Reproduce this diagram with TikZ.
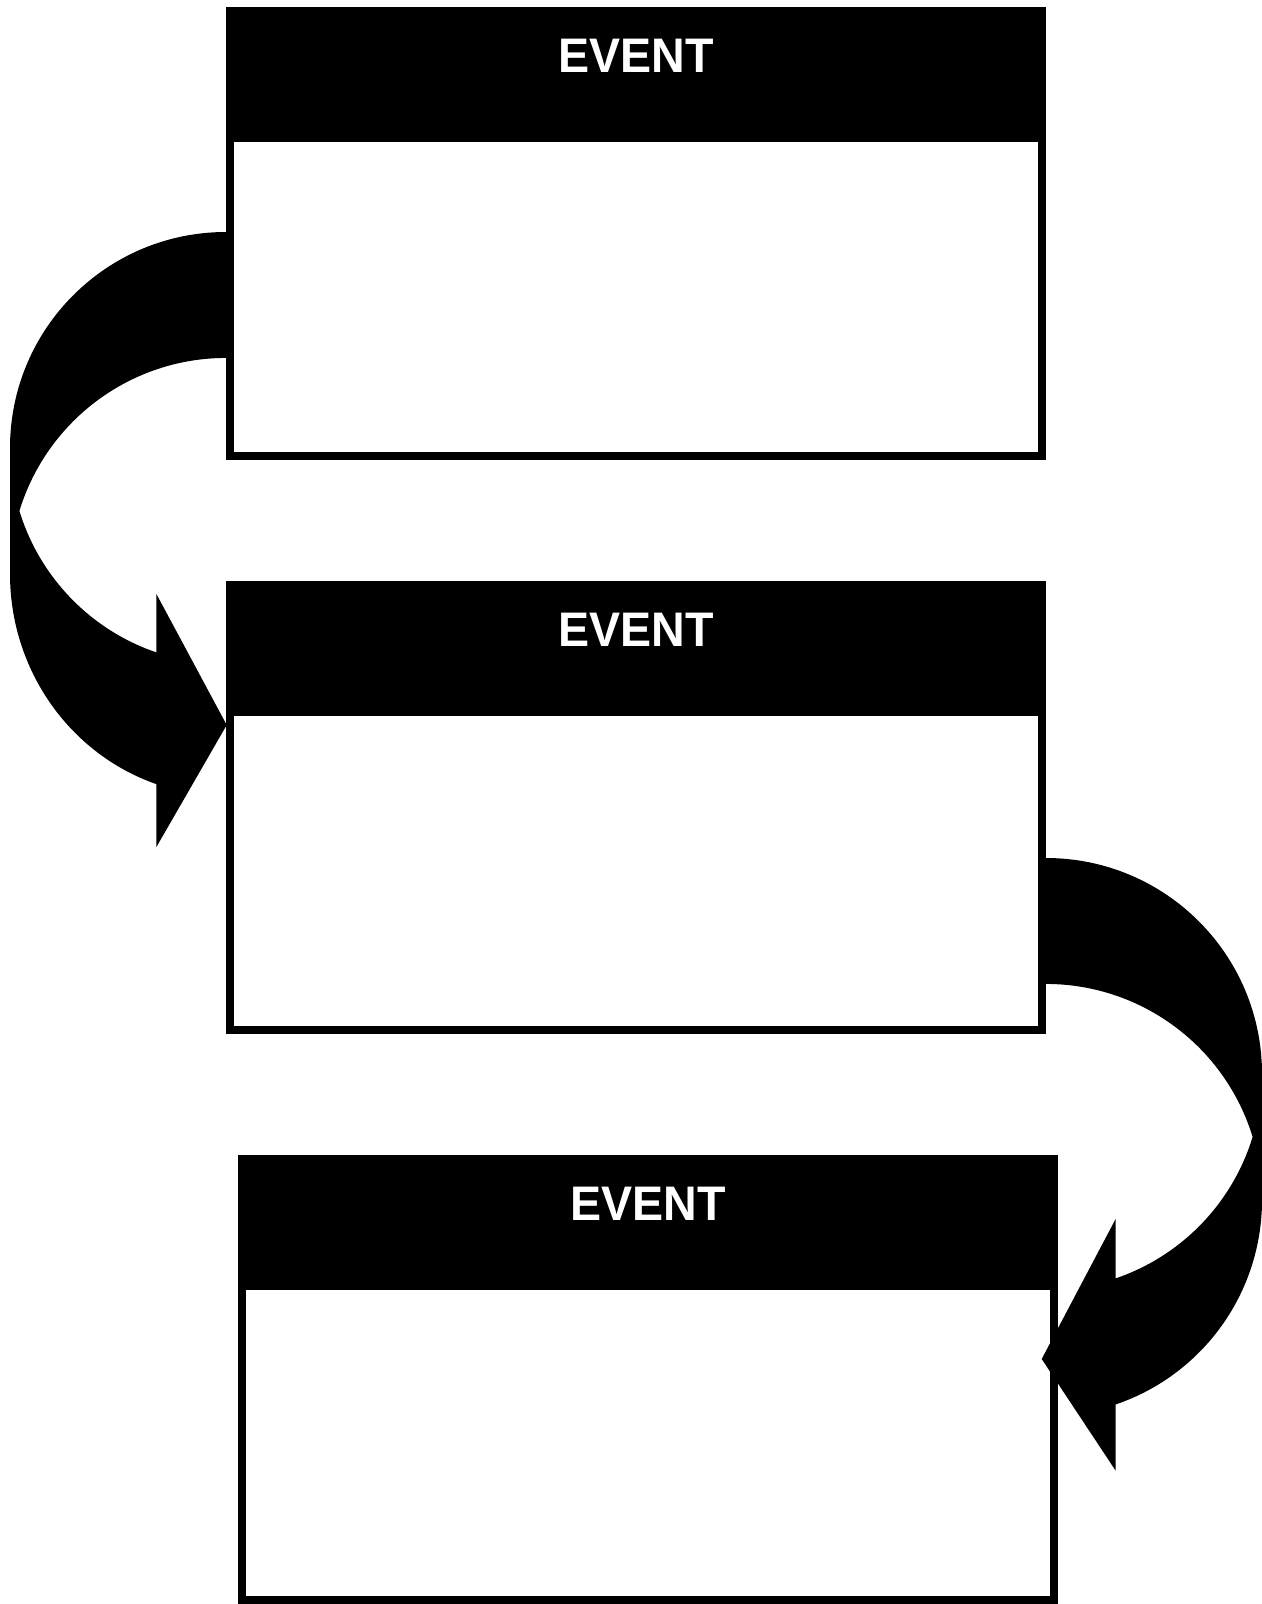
\documentclass[tikz,border=0pt]{standalone}
\usepackage{fontspec}
\setmainfont{Liberation Sans}
\usetikzlibrary{calc}
\begin{document}
\begin{tikzpicture}[x=0.02cm,y=0.02cm,
  hdr/.style={fill=black, draw=none, inner sep=0pt, outer sep=0pt, minimum width=16.4cm, minimum height=2.7cm},
  bodybox/.style={draw=black, line width=0.16cm, fill=white, inner sep=0pt, outer sep=0pt, minimum width=16.24cm},
  ttl/.style={text=white, font=\fontsize{27.6}{31}\selectfont\bfseries, inner sep=0pt, xscale=0.96},
  curvearrow/.style={fill=black, draw=none}]
\useasboundingbox (0,0) rectangle (1261,-1604);
% box 1
\node[bodybox, minimum height=6.44cm] (b1) at (636,-295) {};
\node[hdr] (h1) at (636,-74.5) {};
\node[ttl] (t1) at (636,-56) {EVENT};
% box 2
\node[bodybox, minimum height=6.44cm] (b2) at (636,-869) {};
\node[hdr] (h2) at (636,-648.5) {};
\node[ttl] (t2) at (636,-630) {EVENT};
% box 3
\node[bodybox, minimum height=6.36cm] (b3) at (648,-1441) {};
\node[hdr] (h3) at (648,-1222.5) {};
\node[ttl] (t3) at (648,-1204) {EVENT};
% left curved arrow
\coordinate (la) at (226,-448);
\coordinate (lb) at (226,-574);
\coordinate (ltip) at (226.7,-725);
\fill[curvearrow] ($(la)+(0,216)$) arc[start angle=90,end angle=180,radius=216]
  -- ($(lb)+(-216,0)$) arc[start angle=180,end angle=251.2,x radius=216,y radius=222]
  -- ($(lb)+(-69.6,-273)$) -- (ltip) -- ($(lb)+(-69.6,-20)$)
  -- ($(la)+(-69.6,-204.4)$) arc[start angle=251.2,end angle=196.96,radius=216]
  arc[start angle=163.04,end angle=90,radius=216] -- cycle;
% right curved arrow
\coordinate (ra) at (1046,-1074);
\coordinate (rb) at (1046,-1200);
\coordinate (rtip) at (1041.7,-1359);
\fill[curvearrow] ($(ra)+(0,216)$) arc[start angle=90,end angle=0,radius=216]
  -- ($(rb)+(216,0)$) arc[start angle=0,end angle=-71.2,radius=216]
  -- ($(rb)+(69.6,-270.6)$) -- (rtip) -- ($(rb)+(69.6,-19)$)
  -- ($(ra)+(69.6,-204.4)$) arc[start angle=-71.2,end angle=-16.96,radius=216]
  arc[start angle=16.96,end angle=90,radius=216] -- cycle;
\end{tikzpicture}
\end{document}
